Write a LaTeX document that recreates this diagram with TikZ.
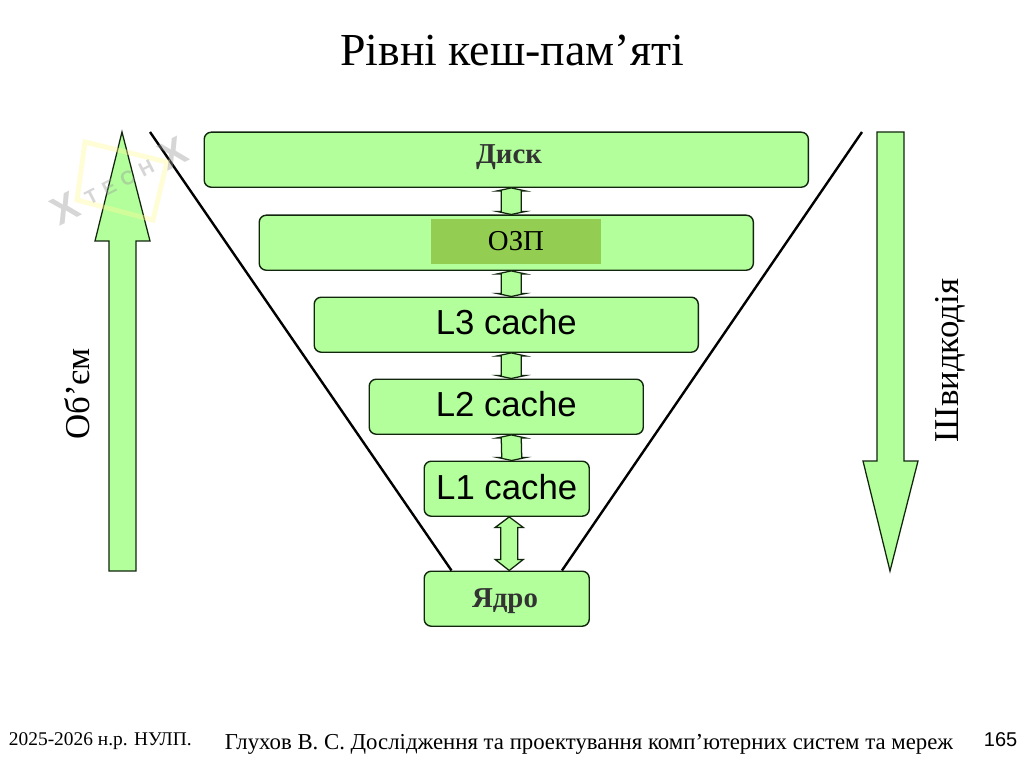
\documentclass[tikz,border=0pt]{standalone}
\usepackage{fontspec}
\setmainfont{Liberation Serif}
\newfontfamily\labelsans{Liberation Sans}
\usetikzlibrary{calc}
\definecolor{levelgreen}{HTML}{B2FF9B}
\definecolor{ramgreen}{HTML}{93CE52}
\definecolor{boxline}{HTML}{12260E}
\tikzset{
  x=0.025cm, y=-0.025cm,
  levelbox/.style={draw=boxline, fill=levelgreen, line width=1pt, rounded corners=5pt, inner sep=0pt, minimum height=1.375cm, anchor=north west},
  fatarrow/.style={draw=boxline, fill=levelgreen, line width=0.9pt, line join=miter},
  conelabel/.style={line width=1.7pt, draw=black},
  sanslabel/.style={font=\labelsans\fontsize{24.7}{24.7}\selectfont, text depth=3.5pt},
  boldlabel/.style={font=\fontsize{20.5}{20.5}\selectfont\bfseries, text=black!80},
  sidelabel/.style={rotate=90, font=\fontsize{24.8}{24.8}\selectfont},
  footlabel/.style={font=\fontsize{16.2}{18}\selectfont, anchor=base west}
}
% small double arrow between two levels
\newcommand{\levellink}[2]{
  \draw[fatarrow] ($(#1.south)+(5,0)$) -- ++(14,3) -- ++(-4,0) -- ($(#2.north)+(15,-3)$) -- ++(4,0) -- ($(#2.north)+(5,0)$)
    -- ++(-14,-3) -- ++(4,0) -- ($(#1.south)+(-5,3)$) -- ++(-4,0) -- cycle;
}
\begin{document}
\begin{tikzpicture}
  \useasboundingbox[fill=white] (0,0) rectangle (1024,767);

  % Title
  \node (title) at (512,50.5) {\fontsize{32.6}{32.6}\selectfont Рівні кеш-пам’яті};

  % Levels
  \node[levelbox, minimum width=15.1cm] (disk) at (203.5,131.5) {};
  \node[levelbox, minimum width=12.35cm] (ram) at (258.5,214.5) {};
  \node[levelbox, minimum width=9.6cm, sanslabel] (lthree) at (313.5,296.5) {L3 cache};
  \node[levelbox, minimum width=6.85cm, sanslabel] (ltwo) at (368.5,378.5) {L2 cache};
  \node[levelbox, minimum width=4.125cm, sanslabel] (lone) at (423.5,460.5) {\raisebox{-1.4pt}{L1 cache}};
  \node[levelbox, minimum width=4.125cm] (core) at (423.5,570.5) {};
  \node[boldlabel] (disklabel) at (509,157) {Диск};
  \node[boldlabel] (corelabel) at (505,601) {Ядро};
  \node[fill=ramgreen, minimum width=4.25cm, minimum height=1.125cm, inner sep=0pt, font=\fontsize{20.5}{20.5}\selectfont] (ramlabel) at (516,241.5) {\raisebox{-1.4pt}{ОЗП}};

  % Links between levels
  \levellink{disk}{ram}
  \levellink{ram}{lthree}
  \levellink{lthree}{ltwo}
  \levellink{ltwo}{lone}
  \draw[fatarrow] ($(lone.south)+(2.5,0)$) -- ++(14,10.5) -- ++(-5.5,0) -- ($(core.north)+(11,-11)$) -- ++(5.5,0) -- ($(core.north)+(2.5,0)$)
    -- ++(-14,-11) -- ++(5.5,0) -- ($(lone.south)+(-6,10.5)$) -- ++(-5.5,0) -- cycle;

  % Cone lines
  \coordinate (coneleft) at (150,132);
  \coordinate (coneright) at (862,132);
  \draw[conelabel] (coneleft) -- ($(core.north west)+(28,0)$);
  \draw[conelabel] (coneright) -- ($(core.north east)+(-28,0)$);

  % Volume arrow
  \draw[fatarrow] (122,132) -- (150,241) -- (136,241) -- (136,571) -- (109,571) -- (109,241) -- (95,241) -- cycle;
  \node[sidelabel] (volume) at (77,394) {Об’єм};

  % Speed arrow
  \draw[fatarrow] (890,571) -- (918,461) -- (904,461) -- (904,132) -- (877,132) -- (877,461) -- (863,461) -- cycle;
  \node[sidelabel] (speed) at (950,360.5) {Швидкодія};

  % Stamp
  \begin{scope}[opacity=0.4]
    \draw[draw=yellow!40, line width=3.5pt] (85,142) -- (167,162) -- (153,220) -- (77,200) -- cycle;
    \node[rotate=27, text=black!40, inner sep=0pt, font=\labelsans\bfseries\fontsize{28}{28}\selectfont] (stamp) at (119,181)
      {X\hspace{7pt}\raisebox{4pt}{\fontsize{14}{14}\selectfont T\hspace{5pt}E\hspace{5pt}C\hspace{5pt}H}\hspace{7pt}X};
  \end{scope}

  % Footer
  \node[footlabel, font=\fontsize{13.8}{16}\selectfont] (year) at (4,745) {2025-2026 н.р. НУЛП.};
  \node[footlabel] (course) at (220,749) {Глухов В. С. Дослідження та проектування комп’ютерних систем та мереж};
  \node[footlabel, font=\labelsans\fontsize{14.2}{16}\selectfont] (page) at (979,746) {165};
\end{tikzpicture}
\end{document}
